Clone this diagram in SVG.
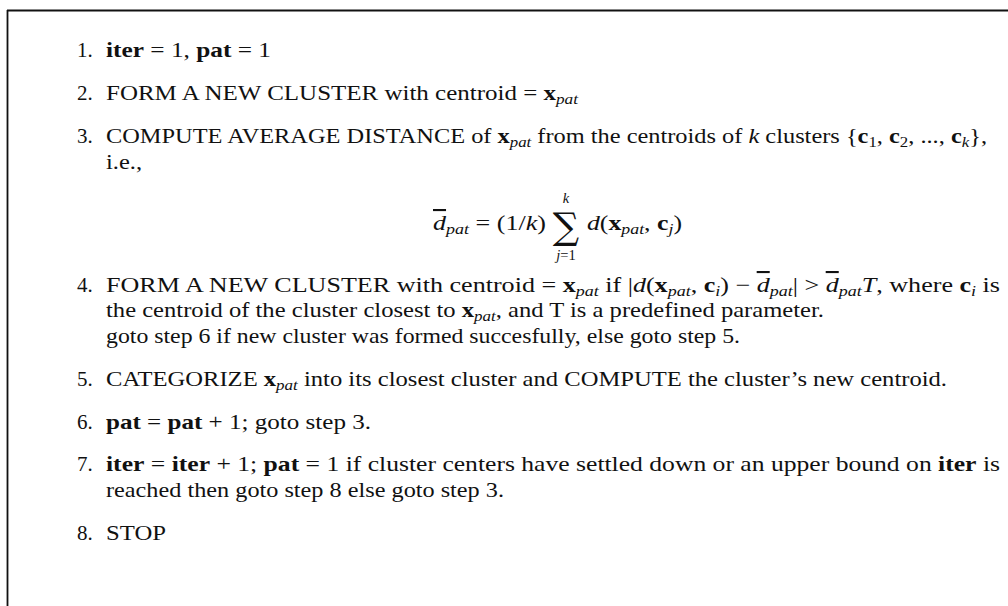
<svg xmlns="http://www.w3.org/2000/svg" width="1008" height="606" viewBox="0 0 1008 606">
  <style>
    text { font-family: "Liberation Serif", "Times New Roman", serif; font-size: 21px; fill: #111; }
    .b { font-weight: bold; }
    .i { font-style: italic; }
    .sub { font-style: italic; font-size: 14.5px; }
    .subr { font-size: 14.5px; }
    .ov { text-decoration: overline; }
    .sum { font-family: "DejaVu Serif", "Liberation Serif", serif; font-size: 37px; }
    .frame { stroke: #111; stroke-width: 1.8; fill: none; }
  </style>
  <rect width="1008" height="606" fill="#fff"/>

  <!-- frame: top rule and left rule -->
  <g id="frame">
    <line class="frame" x1="7" y1="10.5" x2="1008" y2="10.5"/>
    <line class="frame" x1="7.5" y1="10" x2="7.5" y2="606"/>
  </g>

  <g id="step1">
    <text x="77" y="57">1.</text>
    <text x="106" y="57" textLength="165" lengthAdjust="spacingAndGlyphs"><tspan class="b">iter</tspan> = 1, <tspan class="b">pat</tspan> = 1</text>
  </g>

  <g id="step2">
    <text x="77" y="100">2.</text>
    <text x="106" y="100" textLength="472" lengthAdjust="spacingAndGlyphs">FORM A NEW CLUSTER with centroid = <tspan class="b">x</tspan><tspan class="sub" dy="4">pat</tspan></text>
  </g>

  <g id="step3">
    <text x="77" y="143">3.</text>
    <text x="106" y="143" textLength="881" lengthAdjust="spacingAndGlyphs">COMPUTE AVERAGE DISTANCE of <tspan class="b">x</tspan><tspan class="sub" dy="4">pat</tspan><tspan dy="-4"> from the centroids of </tspan><tspan class="i">k</tspan> clusters {<tspan class="b">c</tspan><tspan class="subr" dy="4">1</tspan><tspan dy="-4">, </tspan><tspan class="b">c</tspan><tspan class="subr" dy="4">2</tspan><tspan dy="-4">, ..., </tspan><tspan class="b">c</tspan><tspan class="sub" dy="4">k</tspan><tspan dy="-4">},</tspan></text>
    <text x="106" y="169" textLength="36" lengthAdjust="spacingAndGlyphs">i.e.,</text>
    <!-- average distance: d-bar = (1/k) * sum of d(x, c_j) over j = 1..k -->
    <text x="433" y="230" textLength="113" lengthAdjust="spacingAndGlyphs"><tspan class="i ov">d</tspan><tspan class="sub" dy="4">pat</tspan><tspan dy="-4"> = (1/</tspan><tspan class="i">k</tspan>)</text>
    <text x="566" y="239" text-anchor="middle" class="sum">∑</text>
    <text x="566" y="203" text-anchor="middle" class="sub">k</text>
    <text x="566" y="260" text-anchor="middle" class="sub">j<tspan style="font-style:normal">=1</tspan></text>
    <text x="587" y="230" textLength="95" lengthAdjust="spacingAndGlyphs"><tspan class="i">d</tspan>(<tspan class="b">x</tspan><tspan class="sub" dy="4">pat</tspan><tspan dy="-4">, </tspan><tspan class="b">c</tspan><tspan class="sub" dy="4">j</tspan><tspan dy="-4">)</tspan></text>
  </g>

  <g id="step4">
    <text x="77" y="292">4.</text>
    <text x="106" y="292" textLength="894" lengthAdjust="spacingAndGlyphs">FORM A NEW CLUSTER with centroid = <tspan class="b">x</tspan><tspan class="sub" dy="4">pat</tspan><tspan dy="-4"> if |</tspan><tspan class="i">d</tspan>(<tspan class="b">x</tspan><tspan class="sub" dy="4">pat</tspan><tspan dy="-4">, </tspan><tspan class="b">c</tspan><tspan class="sub" dy="4">i</tspan><tspan dy="-4">) − </tspan><tspan class="i ov">d</tspan><tspan class="sub" dy="4">pat</tspan><tspan dy="-4">| &gt; </tspan><tspan class="i ov">d</tspan><tspan class="sub" dy="4">pat</tspan><tspan class="i" dy="-4">T</tspan>, where <tspan class="b">c</tspan><tspan class="sub" dy="4">i</tspan><tspan dy="-4"> is</tspan></text>
    <text x="106" y="317" textLength="718" lengthAdjust="spacingAndGlyphs">the centroid of the cluster closest to <tspan class="b">x</tspan><tspan class="sub" dy="4">pat</tspan><tspan dy="-4">, and T is a predefined parameter.</tspan></text>
    <text x="106" y="343" textLength="634" lengthAdjust="spacingAndGlyphs">goto step 6 if new cluster was formed succesfully, else goto step 5.</text>
  </g>

  <g id="step5">
    <text x="77" y="386">5.</text>
    <text x="106" y="386" textLength="841" lengthAdjust="spacingAndGlyphs">CATEGORIZE <tspan class="b">x</tspan><tspan class="sub" dy="4">pat</tspan><tspan dy="-4"> into its closest cluster and COMPUTE the cluster’s new centroid.</tspan></text>
  </g>

  <g id="step6">
    <text x="77" y="429">6.</text>
    <text x="106" y="429" textLength="265" lengthAdjust="spacingAndGlyphs"><tspan class="b">pat</tspan> = <tspan class="b">pat</tspan> + 1; goto step 3.</text>
  </g>

  <g id="step7">
    <text x="77" y="471">7.</text>
    <text x="106" y="471" textLength="894" lengthAdjust="spacingAndGlyphs"><tspan class="b">iter</tspan> = <tspan class="b">iter</tspan> + 1; <tspan class="b">pat</tspan> = 1 if cluster centers have settled down or an upper bound on <tspan class="b">iter</tspan> is</text>
    <text x="106" y="497" textLength="398" lengthAdjust="spacingAndGlyphs">reached then goto step 8 else goto step 3.</text>
  </g>

  <g id="step8">
    <text x="77" y="540">8.</text>
    <text x="106" y="540" textLength="60" lengthAdjust="spacingAndGlyphs">STOP</text>
  </g>
</svg>
